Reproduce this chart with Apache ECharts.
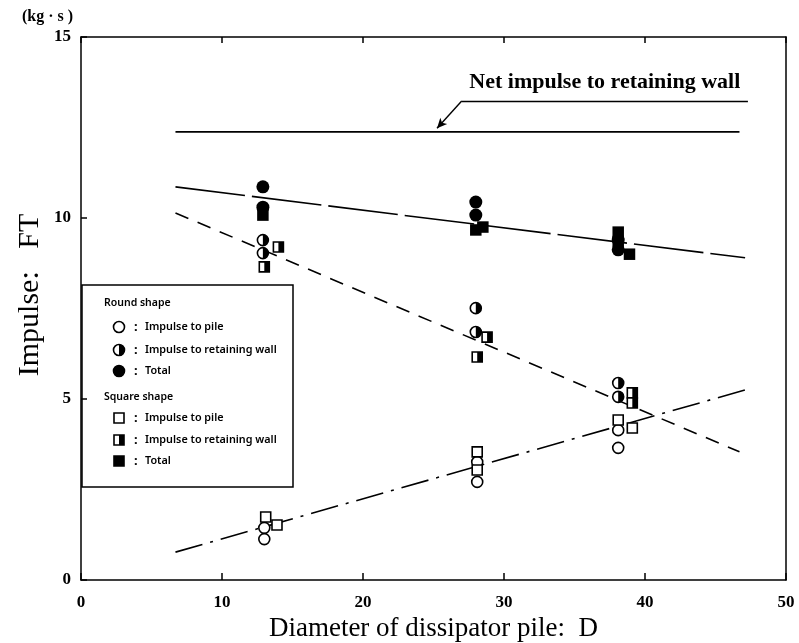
<!DOCTYPE html>
<html>
<head>
<meta charset="utf-8">
<script src="https://cdn.jsdelivr.net/npm/echarts@6/dist/echarts.min.js"></script>
<style>
html, body { margin: 0; background: #fff; }
#main { width: 799px; height: 643px; }
</style>
</head>
<body>
<div id="main"></div>
<script>
// values
var xTicks = [0, 10, 20, 30, 40, 50];
var yTicks = [0, 5, 10, 15];

// round shape
var roundPile  = [[13.0, 1.44], [13.0, 1.13], [28.1, 3.26], [28.1, 2.71], [38.1, 4.14], [38.1, 3.65]];
var roundWall  = [[12.9, 9.39], [12.9, 9.03], [28.0, 7.51], [28.0, 6.85], [38.1, 5.44], [38.1, 5.06]];
var roundTotal = [[12.9, 10.86], [12.9, 10.30], [28.0, 10.44], [28.0, 10.08], [38.1, 9.39], [38.1, 9.12]];
// square shape
var squarePile  = [[13.1, 1.74], [13.9, 1.52], [28.1, 3.54], [28.1, 3.04], [38.1, 4.42], [39.1, 4.20]];
var squareWall  = [[14.0, 9.20], [13.0, 8.65], [28.8, 6.71], [28.1, 6.16], [39.1, 5.17], [39.1, 4.89]];
var squareTotal = [[12.9, 10.08], [28.0, 9.67], [28.5, 9.75], [38.1, 9.61], [38.1, 9.35], [38.9, 9.00]];

// fitted lines
var netLine   = [[6.7, 12.38], [46.7, 12.38]];
var totalLine = [[6.7, 10.86], [47.1, 8.90]];
var wallLine  = [[6.7, 10.14], [46.7, 3.54]];
var pileLine  = [[6.7, 0.77], [47.1, 5.25]];

// annotation: underline and arrow of "Net impulse to retaining wall"
var noteLine  = [[27.0, 13.23], [47.3, 13.23]];
var noteArrow = [[27.0, 13.23], [25.25, 12.48]];

var serif = 'Liberation Serif';
var sans = 'Noto Sans';

var chart = echarts.init(document.getElementById('main'));

function fitLine(name, data, type) {
  return {
    name: name, type: 'line', data: data, symbol: 'none', silent: true, z: 2,
    lineStyle: { color: '#000', width: 1.6, type: type }
  };
}

function pts(data, symbol, size, fill, extra) {
  var s = {
    type: 'scatter', data: data, symbol: symbol, symbolSize: size, z: 5,
    itemStyle: { color: fill, borderColor: '#000', borderWidth: fill === '#fff' ? 1.6 : 0, opacity: 1 }
  };
  for (var k in extra) s[k] = extra[k];
  return s;
}

var axisText = { color: '#000', fontFamily: serif, fontWeight: 'bold', fontSize: 17 };
var black = { color: '#000', width: 1.5 };

var option = {
  animation: false,
  backgroundColor: '#fff',
  grid: { left: 81, right: 13, top: 37, bottom: 63, containLabel: false, outerBoundsMode: 'none' },
  xAxis: [{
    type: 'value', min: xTicks[0], max: xTicks[xTicks.length - 1], interval: 10,
    axisLine: { onZero: false, lineStyle: black },
    axisTick: { inside: true, length: 7, lineStyle: black },
    axisLabel: Object.assign({ margin: 14 }, axisText),
    splitLine: { show: false },
    name: 'Diameter of dissipator pile:  D', nameLocation: 'middle', nameGap: 34,
    nameTextStyle: { color: '#000', fontFamily: serif, fontSize: 27 }
  }, {
    type: 'value', position: 'top', min: 0, max: 50, interval: 10,
    axisLine: { show: true, onZero: false, lineStyle: black },
    axisTick: { inside: true, length: 6, lineStyle: black },
    axisLabel: { show: false }, splitLine: { show: false }
  }],
  yAxis: [{
    type: 'value', min: yTicks[0], max: yTicks[yTicks.length - 1], interval: 5,
    axisLine: { show: true, onZero: false, lineStyle: black },
    axisTick: { show: true, inside: true, length: 6, lineStyle: black },
    axisLabel: Object.assign({ margin: 10 }, axisText),
    splitLine: { show: false }
  }, {
    type: 'value', position: 'right', min: 0, max: 15, interval: 5,
    axisLine: { show: true, onZero: false, lineStyle: black },
    axisTick: { show: false }, axisLabel: { show: false }, splitLine: { show: false }
  }],
  series: [
    {
      name: 'Net impulse', type: 'line', data: netLine, symbol: 'none', silent: true, z: 2,
      lineStyle: { color: '#000', width: 1.6 },
      markLine: {
        silent: true, symbol: ['none', 'none'], animation: false,
        lineStyle: { color: '#000', width: 1.4, type: 'solid' },
        label: { show: false },
        data: [
          [{ coord: noteLine[0] }, { coord: noteLine[1],
            label: { show: true, position: 'insideMiddleTop', distance: 8, formatter: 'Net impulse to retaining wall',
              color: '#000', fontFamily: serif, fontWeight: 'bold', fontSize: 22 } }],
          [{ coord: noteArrow[0] }, { coord: noteArrow[1], symbol: 'arrow', symbolSize: [7, 10] }]
        ]
      }
    },
    fitLine('Total fit', totalLine, [70, 7]),
    fitLine('Wall fit', wallLine, [14, 10]),
    fitLine('Pile fit', pileLine, [28, 8, 3, 8]),

    // round shape
    pts(roundPile, 'circle', 11, '#fff'),
    pts(roundWall, 'circle', 11, '#fff'),
    pts(roundWall, 'path://M0,0 A10,10 0 0,1 0,20 Z', [5.5, 11], '#000', { symbolOffset: [2.75, 0], z: 6 }),
    pts(roundTotal, 'circle', 13, '#000'),
    // square shape
    pts(squarePile, 'rect', 10, '#fff'),
    pts(squareWall, 'rect', 10, '#fff'),
    pts(squareWall, 'rect', [5, 10], '#000', { symbolOffset: [2.5, 0], z: 6 }),
    pts(squareTotal, 'rect', 11.5, '#000')
  ],
  graphic: []
};

// unit label and y axis title
option.graphic.push({
  type: 'text', left: 22, top: 9,
  style: { text: '(kg · s )', fill: '#000', font: 'bold 16px "' + serif + '"' }
});
option.graphic.push({
  type: 'text', x: 30, y: 295, rotation: Math.PI / 2,
  style: { text: 'Impulse:   FT', fill: '#000', font: '30px "' + serif + '"', align: 'center', verticalAlign: 'middle' }
});

// legend box, drawn by hand to keep the two groups
var lx = 82, ly = 285;
var legendItems = [
  { head: 'Round shape', y: 303 },
  { shape: 'circle', fill: 'open', text: 'Impulse to pile', y: 327 },
  { shape: 'circle', fill: 'half', text: 'Impulse to retaining wall', y: 350 },
  { shape: 'circle', fill: 'full', text: 'Total', y: 371 },
  { head: 'Square shape', y: 397 },
  { shape: 'rect', fill: 'open', text: 'Impulse to pile', y: 418 },
  { shape: 'rect', fill: 'half', text: 'Impulse to retaining wall', y: 440 },
  { shape: 'rect', fill: 'full', text: 'Total', y: 461 }
];
var legendEls = [{
  type: 'rect', shape: { x: lx, y: ly, width: 211, height: 202 },
  style: { fill: '#fff', stroke: '#000', lineWidth: 1.5 }
}];
legendItems.forEach(function (it) {
  if (it.head) {
    legendEls.push({ type: 'text', x: 104, y: it.y,
      style: { text: it.head, fill: '#000', font: '600 10.5px "' + sans + '"', verticalAlign: 'middle' } });
    return;
  }
  var cx = 119, cy = it.y;
  if (it.shape === 'circle') {
    legendEls.push({ type: 'circle', shape: { cx: cx, cy: cy, r: 5.5 },
      style: { fill: it.fill === 'full' ? '#000' : '#fff', stroke: '#000', lineWidth: 1.6 } });
    if (it.fill === 'half') {
      legendEls.push({ type: 'sector', shape: { cx: cx, cy: cy, r: 5.5, r0: 0, startAngle: -Math.PI / 2, endAngle: Math.PI / 2 },
        style: { fill: '#000' } });
    }
  } else {
    legendEls.push({ type: 'rect', shape: { x: cx - 5, y: cy - 5, width: 10, height: 10 },
      style: { fill: it.fill === 'full' ? '#000' : '#fff', stroke: '#000', lineWidth: 1.6 } });
    if (it.fill === 'half') {
      legendEls.push({ type: 'rect', shape: { x: cx, y: cy - 5, width: 5, height: 10 }, style: { fill: '#000' } });
    }
  }
  legendEls.push({ type: 'text', x: 134, y: cy,
    style: { text: ':', fill: '#000', font: 'bold 13px "' + sans + '"', verticalAlign: 'middle' } });
  legendEls.push({ type: 'text', x: 145, y: cy,
    style: { text: it.text, fill: '#000', font: '600 10.8px "' + sans + '"', verticalAlign: 'middle' } });
});
option.graphic.push({ type: 'group', z: 20, children: legendEls });

chart.setOption(option);
</script>
</body>
</html>
